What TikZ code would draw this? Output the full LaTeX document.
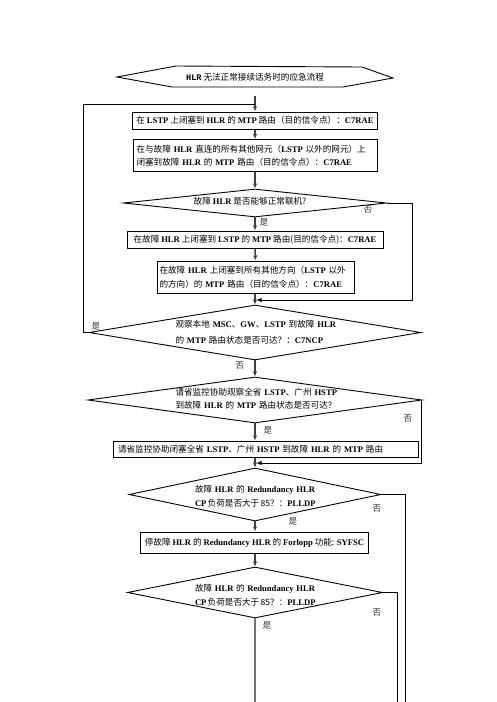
\documentclass[tikz,border=0pt]{standalone}
\usepackage{fontspec}
\setmainfont{Liberation Serif}
\newfontfamily\cjk{Noto Sans CJK SC}
\newfontfamily\monob{Liberation Mono}
\usetikzlibrary{shapes.geometric,arrows.meta}
\newcommand\E[1]{{\rmfamily\bfseries #1}}
\tikzset{
  txt/.style={font=\cjk\fontsize{8.6}{13.5}\selectfont, inner sep=0pt},
  box/.style={draw, line width=1pt, txt, inner xsep=4pt, inner ysep=0pt},
  dia/.style={draw, shape=diamond, line width=0.9pt, inner sep=0pt},
  lbl/.style={font=\cjk\fontsize{8.6}{10}\selectfont, inner sep=0pt, text=black!80},
  arr/.style={-{Latex[length=5pt,width=4.5pt]}, line width=1.4pt, black!75},
  ln/.style={line width=0.9pt},
  lnarr/.style={ln, -{Latex[length=5pt,width=4.5pt]}},
}
\begin{document}
\begin{tikzpicture}[x=1pt,y=-1pt]
\useasboundingbox (0,0) rectangle (496,702);
% title
\draw[ln] (117,77) -- (176,66) -- (362,67) -- (393,78) -- (343,87) -- (172,87) -- cycle;
\node[txt] (title) at (255,77) {{\monob\bfseries HLR} 无法正常接续话务时的应急流程};
\coordinate (s0) at (255,96);
% boxes
\node[box, minimum width=243, minimum height=17] (b1) at (255,120.5)
  {在 \E{LSTP} 上闭塞到 \E{HLR} 的 \E{MTP} 路由（目的信令点）：\E{C7RAE}};
\node[box, minimum height=32, text width=237, align=left, inner xsep=3.5pt] (b2) at (255,155.5)
  {在与故障 \E{HLR} 直连的所有其他网元（\E{LSTP} 以外的网元）上\\闭塞到故障 \E{HLR} 的 \E{MTP} 路由（目的信令点）：\E{C7RAE}};
\node[dia, minimum width=263, minimum height=28] (d1) at (255,203) {};
\node[txt] (t1) at (250,201) {故障 \E{HLR} 是否能够正常联机?};
\node[box, minimum width=256, minimum height=17] (b3) at (255,239.5)
  {在故障 \E{HLR} 上闭塞到 \E{LSTP} 的 \E{MTP} 路由(目的信令点)：\E{C7RAE}};
\node[box, minimum height=32, text width=192, align=left, inner xsep=2.5pt] (b4) at (255.5,277)
  {在故障 \E{HLR} 上闭塞到所有其他方向（\E{LSTP} 以外\\的方向）的 \E{MTP} 路由（目的信令点）：\E{C7RAE}};
\node[dia, minimum width=332, minimum height=55] (d2) at (255,332.5) {};
\node[txt, text width=165, align=left] (t2) at (258,332)
  {观察本地 \E{MSC}、\E{GW}、\E{LSTP} 到故障 \E{HLR}\\[2pt]的 \E{MTP} 路由状态是否可达？：\E{C7NCP}};
\node[dia, minimum width=334, minimum height=46] (d3) at (255,400) {};
\node[txt, text width=165, align=left] (t3) at (258,398.5)
  {请省监控协助观察全省 \E{LSTP}、广州 \E{HSTP}\\到故障 \E{HLR} 的 \E{MTP} 路由状态是否可达？};
\node[box, minimum height=16, text width=295, align=left, inner xsep=5pt] (b5) at (265.5,449)
  {请省监控协助闭塞全省 \E{LSTP}、广州 \E{HSTP} 到故障 \E{HLR} 的 \E{MTP} 路由};
\node[dia, minimum width=252, minimum height=53] (d4) at (255,494.5) {};
\node[txt, align=left] (t4) at (255,496)
  {\makebox[120pt][s]{故障 \E{HLR} 的 \E{Redundancy} \E{HLR}}\\\makebox[120pt][s]{\E{CP} 负荷是否大于 85？：\E{PLLDP}}};
\node[box, minimum width=225, minimum height=21] (b6) at (254.5,542.5)
  {停故障 \E{HLR} 的 \E{Redundancy HLR} 的 \E{Forlopp} 功能: \E{SYFSC}};
\node[dia, minimum width=255, minimum height=51] (d5) at (255,592.5) {};
\node[txt, align=left] (t5) at (255,595)
  {\makebox[120pt][s]{故障 \E{HLR} 的 \E{Redundancy} \E{HLR}}\\\makebox[120pt][s]{\E{CP} 负荷是否大于 85？：\E{PLLDP}}};
% coordinates
\coordinate (j0) at (255,104);
\coordinate (l1) at (83,332.5);
\coordinate (m1) at (412,300);
\coordinate (j1) at (256.5,300);
\coordinate (m2) at (421,463);
\coordinate (j2) at (256.5,463);
\coordinate (e1) at (405,702);
\coordinate (e2) at (397,702);
\coordinate (e3) at (255,702);
% connectors
\draw[arr] (s0) -- (b1.north);
\draw[arr] (b1) -- (b2);
\draw[arr] (b2) -- (d1.north);
\draw[arr] (d1.south) -- (b3.north);
\draw[arr] (b3) -- (b4);
\draw[arr] (b4.south -| d2.north) -- (d2.north);
\draw[lnarr] (d1.east) -| (m1) -- (j1);
\draw[ln] (d2.west) -- (l1) |- (j0);
\draw[arr] (d2.south) -- (d3.north);
\draw[arr] (d3.south) -- (d3.south |- b5.north);
\draw[lnarr] (d3.east) -| (m2) -- (j2);
\draw[arr] (b5.south -| d4.north) -- (d4.north);
\draw[arr] (d4.south) -- (d4.south |- b6.north);
\draw[ln] (d4.east) -| (e1);
\draw[arr] (b6.south -| d5.north) -- (d5.north);
\draw[ln] (d5.east) -| (e2);
\draw[line width=1.8pt, black!55] (d5.south) -- (e3);
% labels
\node[lbl] (n1) at (368,209) {否};
\node[lbl] (y1) at (264,222) {是};
\node[lbl] (y2) at (96,326) {是};
\node[lbl] (n2) at (240,365) {否};
\node[lbl] (n3) at (408,418) {否};
\node[lbl] (y3) at (268,430) {是};
\node[lbl] (n4) at (377,508) {否};
\node[lbl] (y4) at (293,521) {是};
\node[lbl] (n5) at (377,612) {否};
\node[lbl] (y5) at (267,625) {是};
\end{tikzpicture}
\end{document}
